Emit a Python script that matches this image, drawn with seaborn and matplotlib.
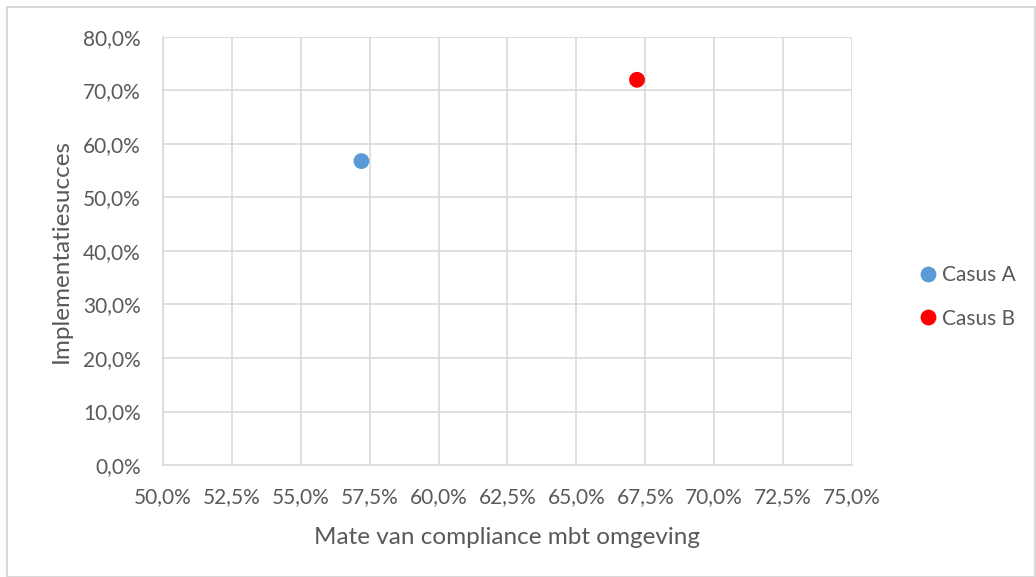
import numpy as np
import pandas as pd
import seaborn as sns
import matplotlib.pyplot as plt
from matplotlib.ticker import FuncFormatter, MultipleLocator
from matplotlib.patches import Rectangle

cases = ["Casus A", "Casus B"]
compliance = [0.572, 0.672]
succes = [0.568, 0.720]
colors = {"Casus A": "#5B9BD5", "Casus B": "#FF0000"}

df = pd.DataFrame({"case": cases, "x": compliance, "y": succes})

sns.set_style("white")
plt.rcParams["font.family"] = ["Lato", "DejaVu Sans"]
txt = "#595959"
grid = "#D9D9D9"

fig = plt.figure(figsize=(10.36, 5.77), dpi=100)
ax = fig.add_axes([0.1573, 0.1941, 0.8224 - 0.1573, 0.9359 - 0.1941])

sns.scatterplot(data=df, x="x", y="y", hue="case", palette=colors,
                s=130, edgecolor="none", ax=ax, zorder=3)

ax.set_xlim(0.5, 0.75)
ax.set_ylim(0, 0.8)
ax.xaxis.set_major_locator(MultipleLocator(0.025))
ax.yaxis.set_major_locator(MultipleLocator(0.1))
fmt = FuncFormatter(lambda v, p: f"{v*100:.1f}%".replace(".", ","))
ax.xaxis.set_major_formatter(fmt)
ax.yaxis.set_major_formatter(fmt)
ax.grid(True, color=grid, linewidth=1.2, zorder=0)
ax.set_axisbelow(True)
for side in ["top", "right"]:
    ax.spines[side].set_visible(False)
for side in ["left", "bottom"]:
    ax.spines[side].set_color(grid)
    ax.spines[side].set_linewidth(1.2)
ax.tick_params(length=0, labelsize=15, colors=txt)
ax.tick_params(axis="y", pad=16)
ax.tick_params(axis="x", pad=16)

ax.set_xlabel("Mate van compliance mbt omgeving", fontsize=17.5, color=txt)
ax.set_ylabel("Implementatiesucces", fontsize=17.5, color=txt)
ax.xaxis.set_label_coords(0.5, -0.145)
ax.yaxis.set_label_coords(-0.132, 0.5)

ax.legend(loc="center left", bbox_to_anchor=(1.0987, 0.393), frameon=False,
          fontsize=15, labelcolor=txt, handletextpad=0.25, handlelength=0.8,
          borderpad=0, borderaxespad=0, labelspacing=1.15, markerscale=1.0)

fig.patches.append(Rectangle((7 / 1036, 0), 1 - 8 / 1036, 1 - 7 / 577,
                             transform=fig.transFigure, fill=False,
                             edgecolor=grid, linewidth=1.5))

fig.savefig("out.png", dpi=100)
